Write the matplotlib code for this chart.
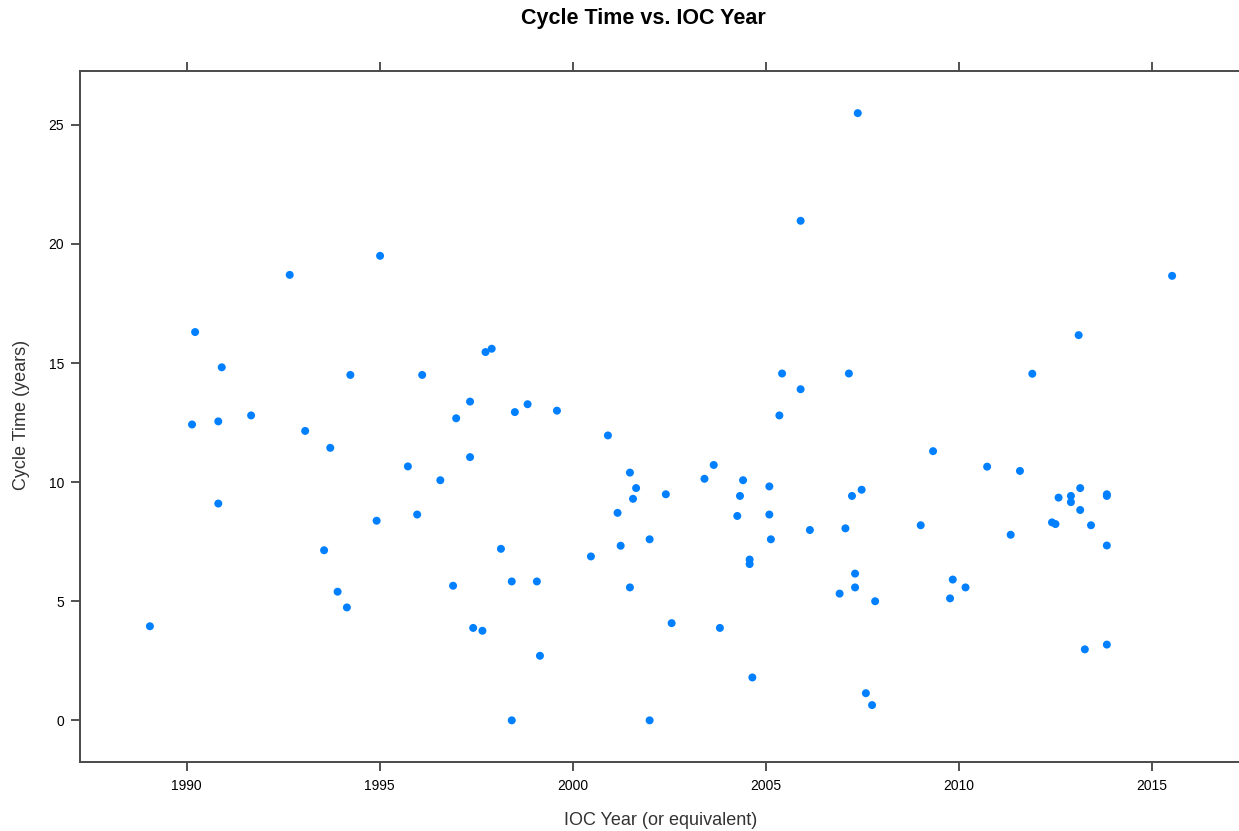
import matplotlib
matplotlib.use("Agg")
import matplotlib.pyplot as plt

# IOC year (x) and cycle time in years (y)
ioc_year = [
    1989.05, 1990.14, 1990.22, 1990.82, 1990.82, 1990.91, 1991.67, 1992.67,
    1993.07, 1993.56, 1993.72, 1993.91, 1994.15, 1994.24, 1994.92, 1995.01,
    1995.73, 1995.97, 1996.10, 1996.57, 1996.90, 1996.98, 1997.34, 1997.34,
    1997.42, 1997.66, 1997.74, 1997.90, 1998.14, 1998.42, 1998.42, 1998.50,
    1998.83, 1999.07, 1999.15, 1999.59, 2000.47, 2000.91, 2001.16, 2001.24,
    2001.48, 2001.48, 2001.56, 2001.64, 2001.99, 2001.99, 2002.41, 2002.56,
    2003.41, 2003.65, 2003.81, 2004.26, 2004.33, 2004.41, 2004.58, 2004.58,
    2004.65, 2005.09, 2005.09, 2005.13, 2005.35, 2005.42, 2005.90, 2005.90,
    2006.14, 2006.91, 2007.06, 2007.15, 2007.23, 2007.31, 2007.31, 2007.38,
    2007.48, 2007.59, 2007.75, 2007.83, 2009.01, 2009.33, 2009.77, 2009.84,
    2010.17, 2010.73, 2011.34, 2011.58, 2011.90, 2012.41, 2012.50, 2012.58,
    2012.90, 2012.90, 2013.10, 2013.14, 2013.14, 2013.26, 2013.42, 2013.83,
    2013.83, 2013.83, 2013.83, 2015.52,
]
cycle_time = [
    3.95, 12.42, 16.30, 12.55, 9.10, 14.82, 12.80, 18.70,
    12.15, 7.14, 11.44, 5.40, 4.74, 14.50, 8.38, 19.50,
    10.66, 8.64, 14.50, 10.08, 5.65, 12.68, 13.38, 11.05,
    3.88, 3.76, 15.46, 15.60, 7.20, 5.83, 0.00, 12.94,
    13.27, 5.83, 2.71, 13.00, 6.88, 11.96, 8.71, 7.33,
    10.40, 5.58, 9.30, 9.75, 7.60, 0.00, 9.49, 4.08,
    10.14, 10.72, 3.88, 8.58, 9.42, 10.08, 6.75, 6.56,
    1.80, 9.82, 8.64, 7.60, 12.80, 14.56, 20.97, 13.90,
    7.99, 5.32, 8.06, 14.56, 9.42, 6.16, 5.58, 25.49,
    9.68, 1.14, 0.64, 5.00, 8.19, 11.30, 5.12, 5.91,
    5.58, 10.65, 7.79, 10.47, 14.55, 8.31, 8.24, 9.35,
    9.42, 9.16, 16.17, 9.75, 8.83, 2.98, 8.19, 9.49,
    9.42, 7.34, 3.18, 18.66,
]

x_ticks = [1990, 1995, 2000, 2005, 2010, 2015]
y_ticks = [0, 5, 10, 15, 20, 25]

plt.rcParams['font.family'] = ['Liberation Sans', 'DejaVu Sans']

fig = plt.figure(figsize=(12.39, 8.31), dpi=100)
ax = fig.add_axes([0.0646, 0.083, 0.940, 0.8316])

ax.scatter(ioc_year, cycle_time, s=33, color='#0080ff', edgecolors='none', zorder=3)

ax.set_xlim(1987.24, 2017.4)
ax.set_ylim(-1.75, 27.26)
ax.set_xticks(x_ticks)
ax.set_yticks(y_ticks)

for sp in ax.spines.values():
    sp.set_color('#4a4a4a')
    sp.set_linewidth(1.4)

ax.tick_params(axis='x', which='both', direction='out', length=6.5, width=1.2,
               color='#333333', top=True, labeltop=False, labelsize=10, pad=6)
ax.tick_params(axis='y', which='both', direction='out', length=6.5, width=1.2,
               color='#333333', right=False, labelsize=10, pad=5)

fig.text(0.519, 0.978, 'Cycle Time vs. IOC Year', ha='center', va='center',
         fontsize=15.5, fontweight='bold')
fig.text(0.5335, 0.0132, 'IOC Year (or equivalent)', ha='center', va='center',
         fontsize=13, color='#333333')
fig.text(0.017, 0.5006, 'Cycle Time (years)', ha='center', va='center',
         rotation=90, fontsize=13, color='#333333')

fig.savefig('out.png', dpi=100)
